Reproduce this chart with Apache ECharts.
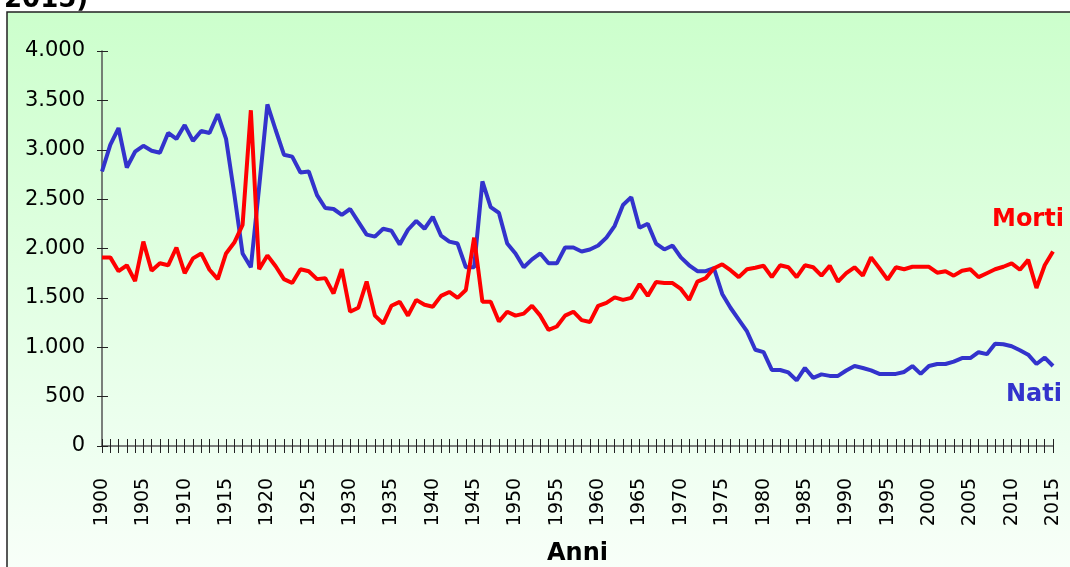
<!DOCTYPE html>
<html>
<head>
<meta charset="utf-8">
<script src="https://cdn.jsdelivr.net/npm/echarts@6/dist/echarts.min.js"></script>
<style>
  html, body { margin: 0; padding: 0; background: #fff; }
  #natiMorti { width: 1070px; height: 567px; }
</style>
</head>
<body>
<div id="natiMorti"></div>
<script>
// anni 1900 - 2015
const firstYear = 1900;
const lastYear = 2015;
const anni = [];
for (let y = firstYear; y <= lastYear; y++) anni.push(String(y));

// nati per anno
const nati = [
  2780, 3050, 3220, 2820, 2980, 3040, 2990, 2970, 3170, 3110,
  3250, 3090, 3190, 3170, 3360, 3110, 2550, 1950, 1810, 2620,
  3460, 3200, 2950, 2930, 2770, 2780, 2540, 2410, 2400, 2340,
  2400, 2270, 2140, 2120, 2200, 2180, 2040, 2190, 2280, 2200,
  2320, 2130, 2070, 2050, 1810, 1810, 2680, 2420, 2360, 2050,
  1950, 1810, 1890, 1950, 1850, 1850, 2010, 2010, 1970, 1990,
  2030, 2110, 2230, 2440, 2520, 2210, 2250, 2050, 1990, 2030,
  1910, 1830, 1770, 1770, 1800, 1540, 1400, 1280, 1160, 975,
  950, 770, 770, 745, 665, 790, 690, 725, 710, 710,
  765, 810, 790, 765, 730, 730, 730, 750, 810, 730,
  810, 830, 830, 855, 890, 890, 950, 930, 1035, 1030,
  1010, 970, 925, 830, 895, 810
];

// morti per anno
const morti = [
  1910, 1910, 1770, 1830, 1670, 2070, 1775, 1850, 1830, 2010,
  1750, 1900, 1950, 1785, 1690, 1950, 2060, 2240, 3400, 1790,
  1930, 1820, 1690, 1650, 1790, 1770, 1690, 1700, 1545, 1790,
  1360, 1400, 1665, 1320, 1240, 1420, 1460, 1320, 1480, 1430,
  1410, 1520, 1560, 1500, 1580, 2110, 1460, 1460, 1260, 1360,
  1320, 1340, 1420, 1320, 1175, 1210, 1320, 1360, 1275, 1255,
  1420, 1450, 1505, 1480, 1500, 1640, 1520, 1660, 1650, 1650,
  1590, 1480, 1665, 1700, 1800, 1840, 1780, 1710, 1790, 1805,
  1825, 1710, 1830, 1810, 1710, 1830, 1810, 1725, 1825, 1665,
  1750, 1810, 1725, 1910, 1800, 1685, 1810, 1790, 1815, 1815,
  1815, 1755, 1770, 1725, 1775, 1790, 1710, 1750, 1790, 1815,
  1850, 1785, 1885, 1600, 1830, 1970
];

const yMin = 0;
const yMax = 4000;
const yStep = 500;

const blu = '#3333cc';
const rosso = '#ff0000';
const font = '"DejaVu Sans", Verdana, sans-serif';

function migliaia(v) {
  return String(v).replace(/\B(?=(\d{3})+(?!\d))/g, '.');
}

const myChart = echarts.init(document.getElementById('natiMorti'));

const option = {
  animation: false,
  textStyle: { fontFamily: font },
  grid: { left: 102, right: 17, top: 51, bottom: 121, outerBoundsMode: 'none', containLabel: false },
  graphic: [
    {
      type: 'rect',
      z: -10,
      shape: { x: 7, y: 12, width: 1090, height: 580 },
      style: {
        stroke: '#222',
        lineWidth: 1.5,
        fill: new echarts.graphic.LinearGradient(0, 0, 0, 1, [
          { offset: 0, color: '#ccffcc' },
          { offset: 0.75, color: '#eefff0' },
          { offset: 1, color: '#fafffa' }
        ])
      }
    },
    {
      type: 'text',
      left: 4,
      top: -13,
      style: { text: '2015)', font: 'bold 26px ' + font, fill: '#000' }
    },
    {
      type: 'text',
      left: 992,
      top: 208,
      style: { text: 'Morti', font: 'bold 24px ' + font, fill: rosso }
    },
    {
      type: 'text',
      left: 1006,
      top: 383,
      style: { text: 'Nati', font: 'bold 24px ' + font, fill: blu }
    }
  ],
  xAxis: [
    {
      type: 'category',
      data: anni,
      boundaryGap: false,
      name: 'Anni',
      nameLocation: 'middle',
      nameGap: 96,
      nameTextStyle: { fontSize: 24, fontWeight: 'bold', color: '#000', fontFamily: font },
      axisLine: { lineStyle: { color: '#555', width: 1.5 } },
      axisTick: { interval: 0, length: 7, lineStyle: { color: '#222' } },
      axisLabel: {
        interval: 4,
        rotate: 90,
        align: 'center',
        verticalAlign: 'middle',
        margin: 56,
        fontSize: 19,
        color: '#000',
        fontFamily: font
      },
      splitLine: { show: false }
    },
    {
      type: 'category',
      data: anni,
      boundaryGap: false,
      position: 'bottom',
      axisLine: { show: false },
      axisTick: { interval: 0, inside: true, length: 7, lineStyle: { color: '#222' } },
      axisLabel: { show: false },
      splitLine: { show: false }
    }
  ],
  yAxis: [
    {
      type: 'value',
      min: yMin,
      max: yMax,
      interval: yStep,
      axisLine: { show: true, lineStyle: { color: '#555', width: 1.5 } },
      axisTick: { show: true, length: 5, lineStyle: { color: '#222' } },
      axisLabel: {
        margin: 17,
        fontSize: 21,
        color: '#000',
        fontFamily: font,
        formatter: migliaia
      },
      splitLine: { show: false }
    },
    {
      type: 'value',
      min: yMin,
      max: yMax,
      interval: yStep,
      position: 'left',
      axisLine: { show: false },
      axisTick: { show: true, inside: true, length: 6, lineStyle: { color: '#222' } },
      axisLabel: { show: false },
      splitLine: { show: false }
    }
  ],
  series: [
    {
      name: 'Nati',
      type: 'line',
      data: nati,
      showSymbol: false,
      lineStyle: { color: blu, width: 4 },
      itemStyle: { color: blu },
      z: 2
    },
    {
      name: 'Morti',
      type: 'line',
      data: morti,
      showSymbol: false,
      lineStyle: { color: rosso, width: 4 },
      itemStyle: { color: rosso },
      z: 3
    }
  ]
};
myChart.setOption(option);

window.addEventListener('resize', () => {
  myChart.resize();
});
</script>
</body>
</html>
